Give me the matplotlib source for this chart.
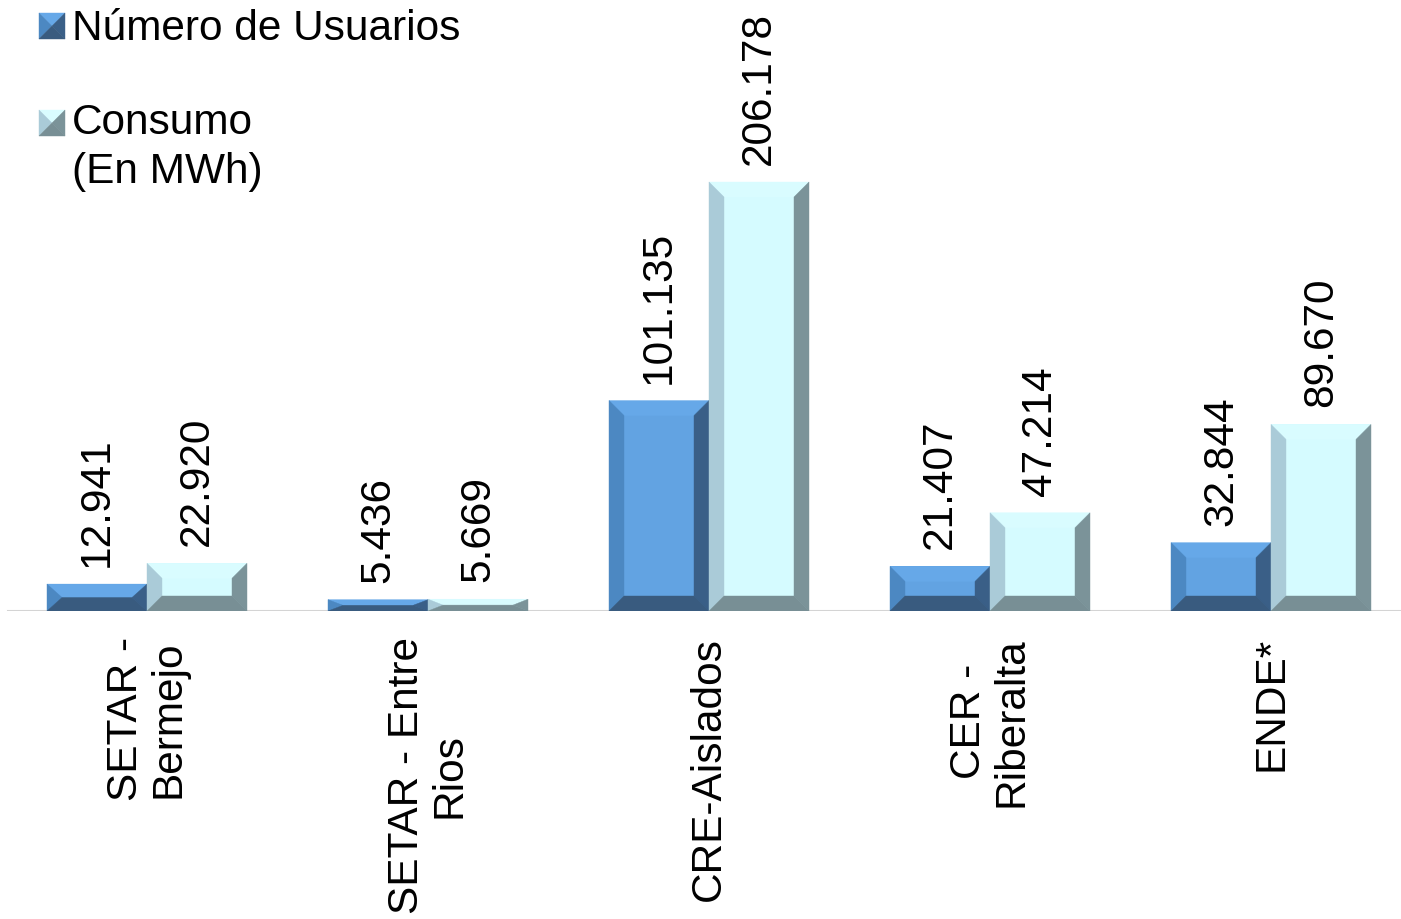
import matplotlib
matplotlib.use("Agg")
from matplotlib import pyplot as plt
from matplotlib.patches import Polygon

# data
categorias = ["SETAR -\nBermejo", "SETAR - Entre\nRios", "CRE-Aislados", "CER -\nRiberalta", "ENDE*"]
usuarios = [12941, 5436, 101135, 21407, 32844]
consumo = [22920, 5669, 206178, 47214, 89670]
series_nombres = ["Número de Usuarios", "Consumo\n(En MWh)"]

# bevel colours: face, top, left, right, bottom
azul = ["#62a3e2", "#66a8e8", "#4c88c2", "#3a5f87", "#395b7f"]
celeste = ["#d5fbff", "#d9fcff", "#aacbd8", "#7b9399", "#788f95"]

plt.rcParams['font.family'] = ['Liberation Sans', 'DejaVu Sans']
FS = 30.5

W, H = 1401, 920
fig = plt.figure(figsize=(W / 100, H / 100), dpi=100)

# axes fills the width, baseline sits at pixel row 612
base_px = 612
ax = fig.add_axes([0, (H - base_px) / H, 1, base_px / H])
for s in ax.spines.values():
    s.set_visible(False)

paso = 281.0   # pixels per category
x0_px = 147.0  # pixel of first category centre
ax.set_xlim(-x0_px / paso, (W - x0_px) / paso)
ymax = base_px * max(consumo) / 429.0
ax.set_ylim(0, ymax)
ax.set_yticks([])

ancho = 100.0 / paso
xs = list(range(len(categorias)))

# gray baseline
ax.axhline(0, xmin=8 / W, xmax=1, color="#d4d4d4", lw=2.2, zorder=0)

# bevel size in data units (15 px)
bev = 15.0
bx_u = bev / paso
by_u = bev * ymax / base_px


def bar_bisel(x_left, w, h, cols):
    # draws a bevelled bar with the face and four side pieces
    x1 = x_left + w
    bx = min(bx_u, w / 2)
    by = min(by_u, h / 2)
    ax.bar(x_left, h, width=w, align='edge', color=cols[0], linewidth=0, zorder=2)
    piezas = [
        ([(x_left, h), (x1, h), (x1 - bx, h - by), (x_left + bx, h - by)], cols[1]),
        ([(x_left, 0), (x_left, h), (x_left + bx, h - by), (x_left + bx, by)], cols[2]),
        ([(x1, 0), (x1, h), (x1 - bx, h - by), (x1 - bx, by)], cols[3]),
        ([(x_left, 0), (x1, 0), (x1 - bx, by), (x_left + bx, by)], cols[4]),
    ]
    for pts, c in piezas:
        ax.add_patch(Polygon(pts, closed=True, facecolor=c, edgecolor=c, lw=0.3, zorder=3))


def etiqueta(x, v):
    txt = f"{v:,}".replace(",", ".")
    ax.annotate(txt, xy=(x, v), xytext=(0, 13), textcoords='offset points',
                rotation=90, ha='center', va='bottom', fontsize=FS, color='black')


for i in xs:
    bar_bisel(i - ancho, ancho, usuarios[i], azul)
    bar_bisel(i, ancho, consumo[i], celeste)
    etiqueta(i - ancho / 2, usuarios[i])
    etiqueta(i + ancho / 2, consumo[i])

# category labels
ax.set_xticks(xs)
ax.set_xticklabels(categorias, rotation=90, fontsize=FS, ha='center', va='top',
                   multialignment='center', linespacing=1.08)
ax.tick_params(axis='x', length=0, pad=18)


# legend drawn by hand in pixel positions (y grows downwards)
def cuadro(cx, cy, cols, lado=26):
    # small square split in four triangles like the bevel
    h = lado / 2
    c = (cx, cy)
    tl, tr = (cx - h, cy - h), (cx + h, cy - h)
    bl, br = (cx - h, cy + h), (cx + h, cy + h)
    tri = [
        ([tl, tr, c], cols[1]),
        ([tl, bl, c], cols[2]),
        ([tr, br, c], cols[3]),
        ([bl, br, c], cols[4]),
    ]
    for pts, col in tri:
        pts_f = [(px / W, (H - py) / H) for px, py in pts]
        fig.patches.append(Polygon(pts_f, closed=True, transform=fig.transFigure,
                                   facecolor=col, edgecolor=col, lw=0.3))


cuadro(52, 27, azul)
fig.text(72 / W, (H - 29) / H, series_nombres[0], fontsize=FS, ha='left', va='center')
cuadro(52, 124, celeste)
fig.text(72 / W, (H - 103) / H, series_nombres[1], fontsize=FS, ha='left', va='top',
         linespacing=1.3)

fig.savefig("out.png", dpi=100)
